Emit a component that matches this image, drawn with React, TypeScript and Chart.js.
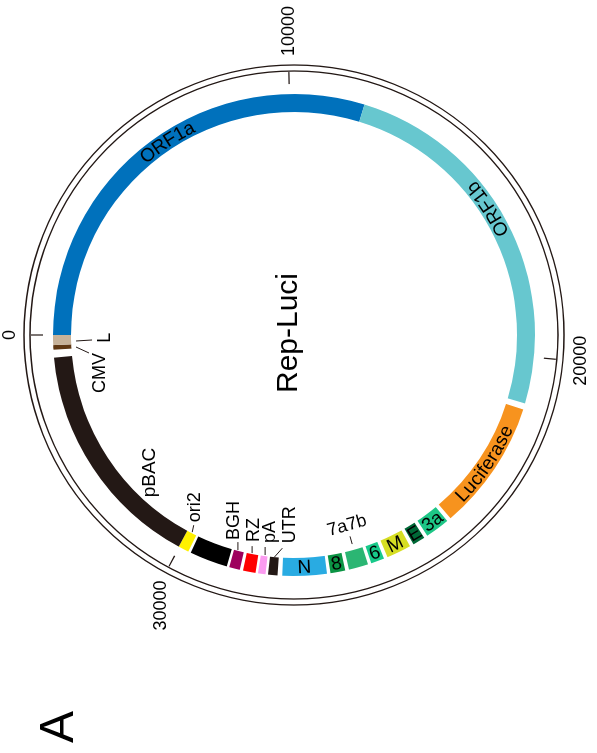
import React, { useEffect, useRef } from "react";
import { Chart, registerables } from "chart.js";
Chart.register(...registerables);

// Map positions are in map degrees (clockwise from the 0 mark; full circle = 360)
const mapTotal = 360;
const featureNames = ["ORF1a", "ORF1b", "Luciferase", "3a", "E", "M", "6", "7a7b", "8", "N", "UTR", "pA", "RZ", "BGH", "", "ori2", "pBAC", "CMV", "L"];
const featureStart = [0, 107, 198, 230.5, 237.3, 241.2, 248.1, 252.1, 257.7, 262.1, 273.9, 276.8, 279.2, 283, 286.2, 296, 298.6, 356.5, 357.6];
const featureEnd = [107, 196.5, 229.5, 236.4, 240.3, 247.2, 251.3, 256.8, 261.3, 272.8, 276.2, 278.6, 282.2, 285.6, 295.4, 298.6, 354.6, 357.6, 360];
const featureColors = ["#0071bc", "#67c7cf", "#f7931e", "#1dc686", "#006837", "#d6de23", "#17c98a", "#2bb673", "#0b9444", "#29abe2", "#231815", "#fb9bf0", "#ff0000", "#9e005d", "#000000", "#fff100", "#231815", "#603813", "#c7b299"];
const tickPositions = [0, 88.9, 185.3, 298.4];
const tickLabels = ["0", "10000", "20000", "30000"];
const mapTitle = "Rep-Luci";
const panelLetter = "A";

// label layout (annotation placement only)
const bandLabels: { name: string; at?: number }[] = [
  { name: "ORF1a", at: 56.7 },
  { name: "ORF1b", at: 147 },
  { name: "Luciferase", at: 214 },
  { name: "3a" }, { name: "E" }, { name: "M" }, { name: "6" }, { name: "8" }, { name: "N" },
];
const leaderLabels: { name: string; line: number[]; text: number[]; align: CanvasTextAlign }[] = [
  { name: "ori2", line: [1, 0.5, 8, 2], text: [11, 3], align: "left" },
  { name: "BGH", line: [1, -1, 9, -1], text: [11, -5], align: "left" },
  { name: "RZ", line: [1, -0.5, 8, -0.5], text: [12, 1], align: "left" },
  { name: "pA", line: [1, 1, 9, 1], text: [13, 6], align: "left" },
  { name: "UTR", line: [0, 0, 9, 8], text: [14, 16], align: "left" },
  { name: "CMV", line: [-0.5, 4.7, -6.5, 17.7], text: [-6.5, 29], align: "right" },
  { name: "L", line: [-1.3, 5, -0.3, 21], text: [2, 33.5], align: "center" },
];

const W = 753;
const H = 597;
const FONT = "'Liberation Sans', Arial, sans-serif";

export default function App() {
  const ref = useRef<HTMLCanvasElement>(null);
  useEffect(() => {
    const canvas = ref.current!;
    const data: number[] = [];
    const colors: string[] = [];
    const labels: string[] = [];
    let pos = 0;
    featureStart.forEach((s, i) => {
      if (s > pos + 1e-9) {
        data.push(s - pos);
        colors.push("rgba(0,0,0,0)");
        labels.push("");
      }
      data.push(featureEnd[i] - s);
      colors.push(featureColors[i]);
      labels.push(featureNames[i]);
      pos = featureEnd[i];
    });
    if (pos < mapTotal) {
      data.push(mapTotal - pos);
      colors.push("rgba(0,0,0,0)");
      labels.push("");
    }

    const decor = {
      id: "mapDecor",
      afterDatasetsDraw(chart: any) {
        const ctx: CanvasRenderingContext2D = chart.ctx;
        const arc = chart.getDatasetMeta(0).data[0] as any;
        const cx = arc.x, cy = arc.y;
        const rIn = arc.innerRadius, rOut = arc.outerRadius;
        const ang = (p: number) => ((p / mapTotal) * 360 - 90) * Math.PI / 180;
        const idx = (n: string) => featureNames.indexOf(n);
        const mid = (i: number) => (featureStart[i] + featureEnd[i]) / 2;
        ctx.save();
        // rings
        ctx.strokeStyle = "#231815";
        ctx.lineWidth = 1.3;
        [rOut + 23, rOut + 29].forEach((r) => {
          ctx.beginPath();
          ctx.arc(cx, cy, r, 0, Math.PI * 2);
          ctx.stroke();
        });
        // ticks + labels
        ctx.fillStyle = "#000";
        ctx.font = `18px ${FONT}`;
        tickPositions.forEach((p, i) => {
          const a = ang(p);
          const c = Math.cos(a), s = Math.sin(a);
          ctx.lineWidth = 1.2;
          ctx.beginPath();
          ctx.moveTo(cx + (rOut + 10) * c, cy + (rOut + 10) * s);
          ctx.lineTo(cx + (rOut + 22) * c, cy + (rOut + 22) * s);
          ctx.stroke();
          const R = rOut + 38;
          const x = cx + R * c, y = cy + R * s;
          if (Math.abs(c) > 0.7) {
            ctx.textAlign = c > 0 ? "left" : "right";
            ctx.textBaseline = "middle";
          } else {
            ctx.textAlign = "center";
            ctx.textBaseline = s > 0 ? "top" : "alphabetic";
          }
          ctx.fillText(tickLabels[i], x, y);
        });
        // band labels (along arc)
        const rMid = (rIn + rOut) / 2;
        ctx.font = `19px ${FONT}`;
        bandLabels.forEach((bl) => {
          const i = idx(bl.name);
          const p = bl.at ?? mid(i);
          const upper = !(p > 90 && p < 270);
          const a0 = ang(p);
          const total = ctx.measureText(bl.name).width;
          let acc = 0;
          for (const ch of bl.name) {
            const w = ctx.measureText(ch).width;
            const off = (acc + w / 2 - total / 2) / rMid;
            const a = upper ? a0 + off : a0 - off;
            ctx.save();
            ctx.translate(cx + rMid * Math.cos(a), cy + rMid * Math.sin(a));
            ctx.rotate(upper ? a + Math.PI / 2 : a - Math.PI / 2);
            ctx.textAlign = "center";
            ctx.textBaseline = "middle";
            ctx.fillText(ch, 0, 1);
            ctx.restore();
            acc += w;
          }
        });
        // leader labels
        ctx.lineWidth = 1;
        ctx.font = `18px ${FONT}`;
        leaderLabels.forEach((ll) => {
          const i = idx(ll.name);
          const a = ang(mid(i));
          const ax = cx + rIn * Math.cos(a), ay = cy + rIn * Math.sin(a);
          ctx.beginPath();
          ctx.moveTo(ax + ll.line[0], ay + ll.line[1]);
          ctx.lineTo(ax + ll.line[2], ay + ll.line[3]);
          ctx.stroke();
          ctx.textAlign = ll.align;
          ctx.textBaseline = "middle";
          ctx.fillText(ll.name, ax + ll.text[0], ay + ll.text[1]);
        });
        // 7a7b: tangential label inside with radial leader
        {
          const i = idx("7a7b");
          const a = ang(mid(i));
          const c = Math.cos(a), s = Math.sin(a);
          ctx.beginPath();
          ctx.moveTo(cx + (rIn - 14) * c, cy + (rIn - 14) * s);
          ctx.lineTo(cx + (rIn - 6) * c, cy + (rIn - 6) * s);
          ctx.stroke();
          ctx.save();
          ctx.translate(cx + (rIn - 25) * c, cy + (rIn - 25) * s);
          ctx.rotate(a - Math.PI / 2);
          ctx.textAlign = "center";
          ctx.textBaseline = "middle";
          ctx.fillText("7a7b", 0, 0);
          ctx.restore();
        }
        // pBAC label inside
        {
          const a = ang(316.3);
          ctx.font = `19px ${FONT}`;
          ctx.textAlign = "center";
          ctx.textBaseline = "middle";
          ctx.fillText("pBAC", cx + (rIn - 24) * Math.cos(a), cy + (rIn - 24) * Math.sin(a));
        }
        // title
        ctx.font = `30px ${FONT}`;
        ctx.textAlign = "center";
        ctx.textBaseline = "alphabetic";
        ctx.fillText(mapTitle, cx + 2, cy + 3);
        // panel letter
        ctx.font = `48px ${FONT}`;
        ctx.textAlign = "left";
        ctx.fillText(panelLetter, 10, 73);
        ctx.restore();
      },
    };

    const chart = new Chart(canvas, {
      type: "doughnut",
      data: {
        labels,
        datasets: [{ data, backgroundColor: colors, borderWidth: 0, hoverOffset: 0 }],
      },
      options: {
        responsive: false,
        animation: false,
        events: [],
        cutout: 223,
        rotation: 0,
        circumference: 360,
        layout: { padding: { left: 177, top: 53, right: 94, bottom: 62 } },
        plugins: { legend: { display: false }, tooltip: { enabled: false } },
      },
      plugins: [decor],
    });
    return () => chart.destroy();
  }, []);

  return (
    <div style={{ position: "absolute", left: 0, top: 0, width: 597, height: 753, overflow: "hidden", background: "#fff" }}>
      <div
        style={{
          position: "absolute",
          left: 0,
          top: 0,
          width: W,
          height: H,
          transform: "translateY(753px) rotate(-90deg)",
          transformOrigin: "0 0",
        }}
      >
        <canvas ref={ref} width={W} height={H} style={{ width: W, height: H, display: "block" }} />
      </div>
    </div>
  );
}
